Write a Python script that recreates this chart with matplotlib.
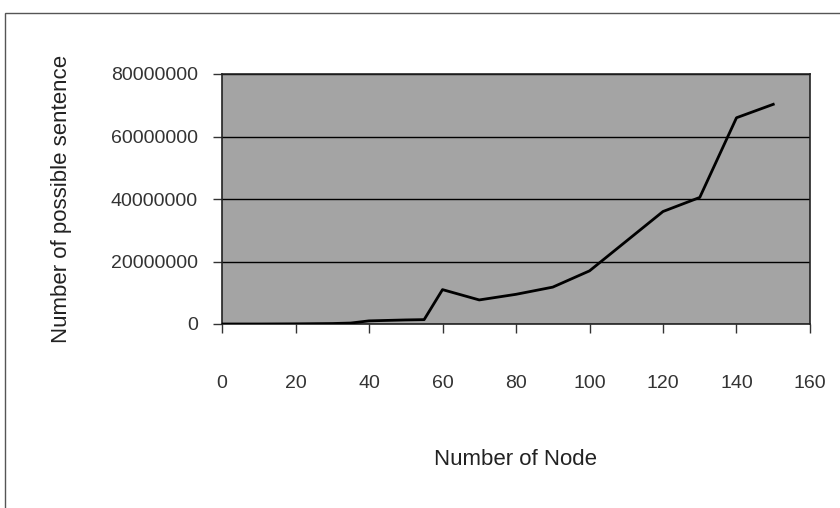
import matplotlib
matplotlib.use("Agg")
import matplotlib.pyplot as plt
from matplotlib.patches import Rectangle

# values
nodes = [0, 10, 20, 30, 35, 40, 50, 55, 60, 70, 80, 90, 100, 120, 130, 140, 150]
sentences = [0, 0, 50000, 150000, 300000, 1000000, 1300000, 1400000,
             11000000, 7700000, 9500000, 11800000, 17000000, 36000000,
             40500000, 66000000, 70300000]

x_ticks = [0, 20, 40, 60, 80, 100, 120, 140, 160]
y_ticks = [0, 20000000, 40000000, 60000000, 80000000]

plt.rcParams['font.family'] = ['Liberation Sans', 'DejaVu Sans']

fig = plt.figure(figsize=(8.4, 5.08), dpi=100)

# outer chart frame (the scan cuts it off at right and bottom)
fig.patches.append(Rectangle((5/840, -0.1), 1.0, (1 - 13/508) + 0.1,
                             transform=fig.transFigure, fill=False,
                             edgecolor='#555555', linewidth=1.0))

ax = fig.add_axes([222/840, 1 - 324/508, 588/840, 250/508])
ax.set_facecolor('#a4a4a4')
ax.plot(nodes, sentences, color='black', linewidth=2.0, zorder=3)

ax.set_xlim(0, 160)
ax.set_ylim(0, 80000000)
ax.set_xticks(x_ticks)
ax.set_yticks(y_ticks)
ax.set_yticklabels([str(v) for v in y_ticks])
ax.set_xticklabels([str(v) for v in x_ticks])

ax.yaxis.grid(True, color='black', linewidth=1.0)
ax.set_axisbelow(True)

for s in ax.spines.values():
    s.set_color('#222222')
    s.set_linewidth(1.2)

ax.tick_params(axis='y', direction='out', length=6.5, width=1, pad=11,
               labelsize=14, colors='#333333')
ax.tick_params(axis='x', direction='out', length=6.5, width=1, pad=30,
               labelsize=14, colors='#333333')

ax.set_xlabel('Number of Node', fontsize=16, color='#222222')
ax.xaxis.set_label_coords(0.5, -0.5)
ax.set_ylabel('Number of possible sentence', fontsize=16, color='#222222')
ax.yaxis.set_label_coords(-0.255, 0.5)

fig.savefig('out.png', dpi=100)
